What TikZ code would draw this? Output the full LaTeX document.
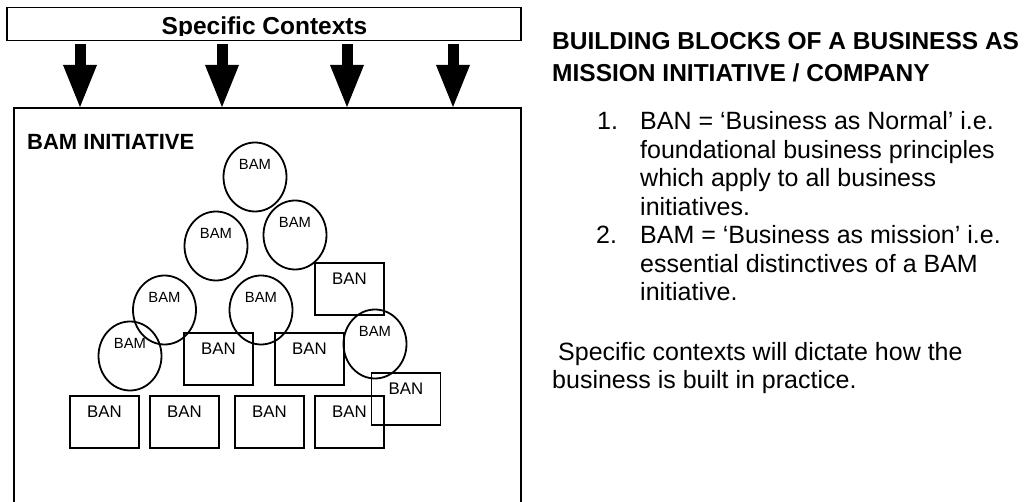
\documentclass[tikz,border=0pt]{standalone}
\usepackage{fontspec}
\setmainfont{Liberation Sans}
\usetikzlibrary{shapes.geometric,arrows.meta}
\begin{document}
\begin{tikzpicture}[x=1pt,y=-1pt,
  bam/.style={ellipse,draw,line width=1.8pt,minimum width=63pt,minimum height=69pt,inner sep=0pt,
    font=\fontsize{14.8}{16}\selectfont,text height=10.6pt,text depth=25pt},
  ban/.style={rectangle,draw,line width=1.9pt,minimum width=69pt,minimum height=52pt,inner sep=0pt,
    font=\fontsize{16.8}{18}\selectfont,text height=12pt,text depth=21pt},
  bigarrow/.style={line width=11pt,-{Triangle[width=34pt,length=42pt,line width=0pt]}},
  body/.style={anchor=base west,inner sep=0pt,font=\fontsize{25}{28}\selectfont},
  head/.style={anchor=base west,inner sep=0pt,font=\fontsize{24.5}{28}\selectfont\bfseries}]
\clip (0,0) rectangle (1031,502);
\fill[white] (0,0) rectangle (1031,502);
% top context box
\node[draw,line width=1.8pt,minimum width=514pt,minimum height=33pt,inner sep=0pt] (ctx) at (264,24) {};
\begin{scope}
  \clip (7,9) rectangle (521,35.5);
  \node[anchor=base,inner sep=0pt,font=\fontsize{24.5}{28}\selectfont\bfseries] (ctxt) at (264.5,35) {Specific Contexts};
\end{scope}
% main box
\node[draw,line width=2pt,anchor=north west,minimum width=507pt,minimum height=440pt,inner sep=0pt] (main) at (13,107) {};
% arrows
\coordinate (s1) at (80,44);
\coordinate (s2) at (222,44);
\coordinate (s3) at (347,44);
\coordinate (s4) at (453,44);
\draw[bigarrow] (s1) -- (s1 |- main.north);
\draw[bigarrow] (s2) -- (s2 |- main.north);
\draw[bigarrow] (s3) -- (s3 |- main.north);
\draw[bigarrow] (s4) -- (s4 |- main.north);
\node[anchor=base west,inner sep=0pt,font=\fontsize{22}{26}\selectfont\bfseries] (title) at (27,150) {BAM INITIATIVE};
% BAM circles
\node[bam] (c1) at (255,177) {BAM};
\node[bam] (c2) at (295,235) {BAM};
\node[bam] (c3) at (216,246) {BAM};
\node[bam] (c4) at (164.5,310) {BAM};
\node[bam] (c5) at (261,310) {BAM};
\node[bam] (c6) at (130,356) {BAM};
\node[bam] (c7) at (375,344) {BAM};
% BAN boxes
\node[ban] (r1) at (349.5,289) {BAN};
\node[ban] (r2) at (218.5,359) {BAN};
\node[ban] (r3) at (309.5,359) {BAN};
\node[ban] (r4) at (104.5,422) {BAN};
\node[ban] (r5) at (184.5,422) {BAN};
\node[ban] (r6) at (269.5,422) {BAN};
\node[ban] (r7) at (349.5,422) {BAN};
\node[ban] (r8) at (406,399) {BAN};
% right-hand text
\node[head] (h1) at (552,50) {BUILDING BLOCKS OF A BUSINESS AS};
\node[head] (h2) at (552,82) {MISSION INITIATIVE / COMPANY};
\node[body] (n1) at (597,130) {1.};
\node[body] (l1) at (640,130) {BAN = ‘Business as Normal’ i.e.};
\node[body] (l2) at (640,158.5) {foundational business principles};
\node[body] (l3) at (640,187) {which apply to all business};
\node[body] (l4) at (640,215.5) {initiatives.};
\node[body] (n2) at (596,244) {2.};
\node[body] (l5) at (640,244) {BAM = ‘Business as mission’ i.e.};
\node[body] (l6) at (640,272.5) {essential distinctives of a BAM};
\node[body] (l7) at (640,301) {initiative.};
\node[body] (p1) at (558,361) {Specific contexts will dictate how the};
\node[body] (p2) at (552,389) {business is built in practice.};
\end{tikzpicture}
\end{document}
